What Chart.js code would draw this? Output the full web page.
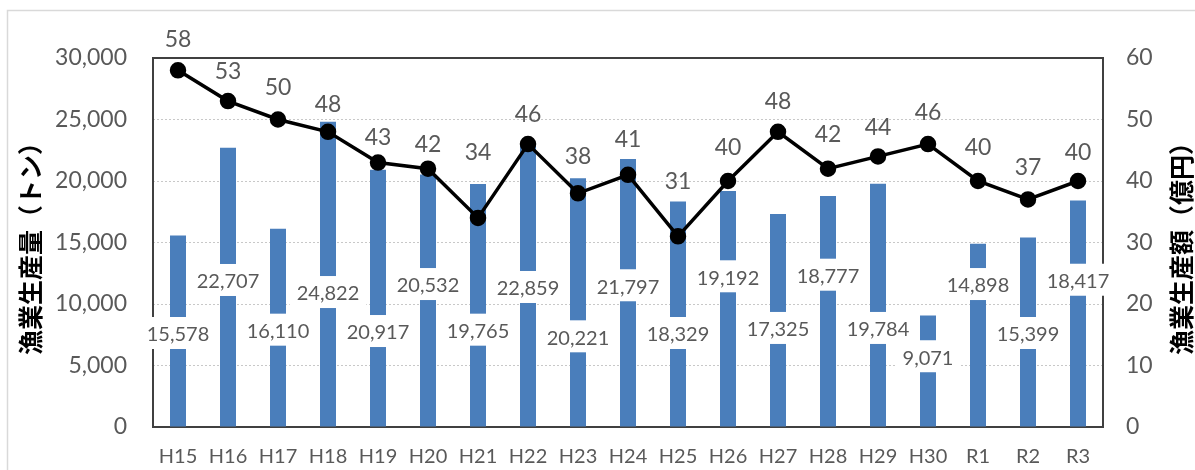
<!DOCTYPE html>
<html lang="ja">
<head>
<meta charset="utf-8">
<title>漁業生産量・生産額の推移</title>
<script src="https://cdn.jsdelivr.net/npm/chart.js@4/dist/chart.umd.min.js"></script>
<style>
  html, body { margin: 0; padding: 0; background: #fff; }
  #chart { display: block; }
</style>
</head>
<body>
<canvas id="chart" width="1195" height="470"></canvas>
<script>
// 年度
const years = ['H15', 'H16', 'H17', 'H18', 'H19', 'H20', 'H21', 'H22', 'H23', 'H24',
               'H25', 'H26', 'H27', 'H28', 'H29', 'H30', 'R1', 'R2', 'R3'];
// 漁業生産量（トン）
const volume = [15578, 22707, 16110, 24822, 20917, 20532, 19765, 22859, 20221, 21797,
                18329, 19192, 17325, 18777, 19784, 9071, 14898, 15399, 18417];
// 漁業生産額（億円）
const amount = [58, 53, 50, 48, 43, 42, 34, 46, 38, 41, 31, 40, 48, 42, 44, 46, 40, 37, 40];

const volumeTitle = '漁業生産量（トン）';
const amountTitle = '漁業生産額（億円）';

const latin = 'Lato, "Open Sans", sans-serif';
const cjk = '"Noto Sans CJK JP", sans-serif';
const grey = '#595959';

// 棒ラベルの高さ（左軸の目盛り値で指定、上下交互にずらす）
const volumeLabelAt = [7480, 11790, 7750, 10810, 7640, 11460, 7750, 11220, 7210, 11360,
                       7480, 12090, 7890, 12220, 7890, 5590, 11460, 7480, 11810];
// 折れ線ラベルを点から持ち上げる量（px）
const amountLabelLift = [31, 29, 32, 27, 25, 24, 65, 30, 37, 35, 55, 33, 30, 34, 29, 32, 33, 32, 28];

// 枠線・データラベル・縦書きの軸タイトル
const decorations = {
    id: 'decorations',
    beforeDraw(chart) {
        const ctx = chart.ctx;
        ctx.save();
        ctx.strokeStyle = '#d9d9d9';
        ctx.lineWidth = 1.5;
        ctx.beginPath();
        ctx.moveTo(7.5, chart.height);
        ctx.lineTo(7.5, 10.5);
        ctx.lineTo(chart.width, 10.5);
        ctx.stroke();
        ctx.restore();
    },
    beforeDatasetsDraw(chart) {
        const { ctx, chartArea: a } = chart;
        ctx.save();
        ctx.strokeStyle = '#404040';
        ctx.lineWidth = 2;
        ctx.strokeRect(a.left, a.top, a.right - a.left, a.bottom - a.top);
        ctx.restore();
    },
    afterDatasetsDraw(chart) {
        const ctx = chart.ctx;
        const yScale = chart.scales.y;
        const barMeta = chart.getDatasetMeta(1);
        const lineMeta = chart.getDatasetMeta(0);

        ctx.save();
        ctx.textAlign = 'center';
        ctx.textBaseline = 'middle';

        // 棒グラフのラベル（白抜きの箱）
        ctx.font = '20px ' + latin;
        barMeta.data.forEach((bar, i) => {
            const text = volume[i].toLocaleString('en-US');
            const cy = yScale.getPixelForValue(volumeLabelAt[i]);
            const w = ctx.measureText(text).width + 14;
            const h = 32;
            ctx.fillStyle = '#fff';
            ctx.fillRect(bar.x - w / 2, cy - h / 2 - 2, w, h);
            ctx.fillStyle = grey;
            ctx.fillText(text, bar.x, cy);
        });

        // 折れ線のラベル
        ctx.font = '23px ' + latin;
        ctx.fillStyle = grey;
        lineMeta.data.forEach((pt, i) => {
            ctx.fillText(String(amount[i]), pt.x, pt.y - amountLabelLift[i]);
        });
        ctx.restore();
    },
    afterDraw(chart) {
        const ctx = chart.ctx;
        const a = chart.chartArea;
        const cy = (a.top + a.bottom) / 2;
        ctx.save();
        ctx.font = 'bold 25px ' + cjk;
        ctx.fillStyle = '#000';
        ctx.textAlign = 'center';
        ctx.textBaseline = 'middle';
        [[30, volumeTitle], [1181, amountTitle]].forEach(([x, text]) => {
            ctx.save();
            ctx.translate(x, cy);
            ctx.rotate(-Math.PI / 2);
            ctx.fillText(text, 0, 0);
            ctx.restore();
        });
        ctx.restore();
    }
};

new Chart(document.getElementById('chart'), {
    data: {
        labels: years,
        datasets: [
            {
                type: 'line',
                label: '漁業生産額',
                data: amount,
                yAxisID: 'y1',
                order: 0,
                borderColor: '#000',
                borderWidth: 3.5,
                pointRadius: 6.5,
                pointBackgroundColor: '#000',
                pointBorderColor: '#000',
                tension: 0
            },
            {
                type: 'bar',
                label: '漁業生産量',
                data: volume,
                yAxisID: 'y',
                order: 1,
                backgroundColor: '#4a7ebb',
                barPercentage: 0.32,
                categoryPercentage: 1
            }
        ]
    },
    options: {
        responsive: false,
        animation: false,
        devicePixelRatio: 1,
        layout: { padding: { top: 58, left: 0, right: 0, bottom: 0 } },
        plugins: {
            legend: { display: false },
            tooltip: { enabled: false }
        },
        scales: {
            x: {
                grid: { display: false, drawTicks: false },
                border: { display: false },
                ticks: { color: grey, font: { family: latin, size: 20 }, padding: 18, maxRotation: 0 },
                afterFit(scale) { scale.height = 43; }
            },
            y: {
                position: 'left',
                min: 0,
                max: 30000,
                ticks: {
                    stepSize: 5000,
                    color: grey,
                    font: { family: latin, size: 23 },
                    padding: 26,
                    callback: v => v.toLocaleString('en-US')
                },
                grid: { color: '#c8c8c8', lineWidth: 1, drawTicks: false },
                border: { display: false, dash: [2, 2] },
                afterFit(scale) { scale.width = 153; }
            },
            y1: {
                position: 'right',
                min: 0,
                max: 60,
                ticks: {
                    stepSize: 10,
                    color: grey,
                    font: { family: latin, size: 23 },
                    padding: 23
                },
                grid: { drawOnChartArea: false, drawTicks: false },
                border: { display: false },
                afterFit(scale) { scale.width = 92; }
            }
        }
    },
    plugins: [decorations]
});
</script>
</body>
</html>
